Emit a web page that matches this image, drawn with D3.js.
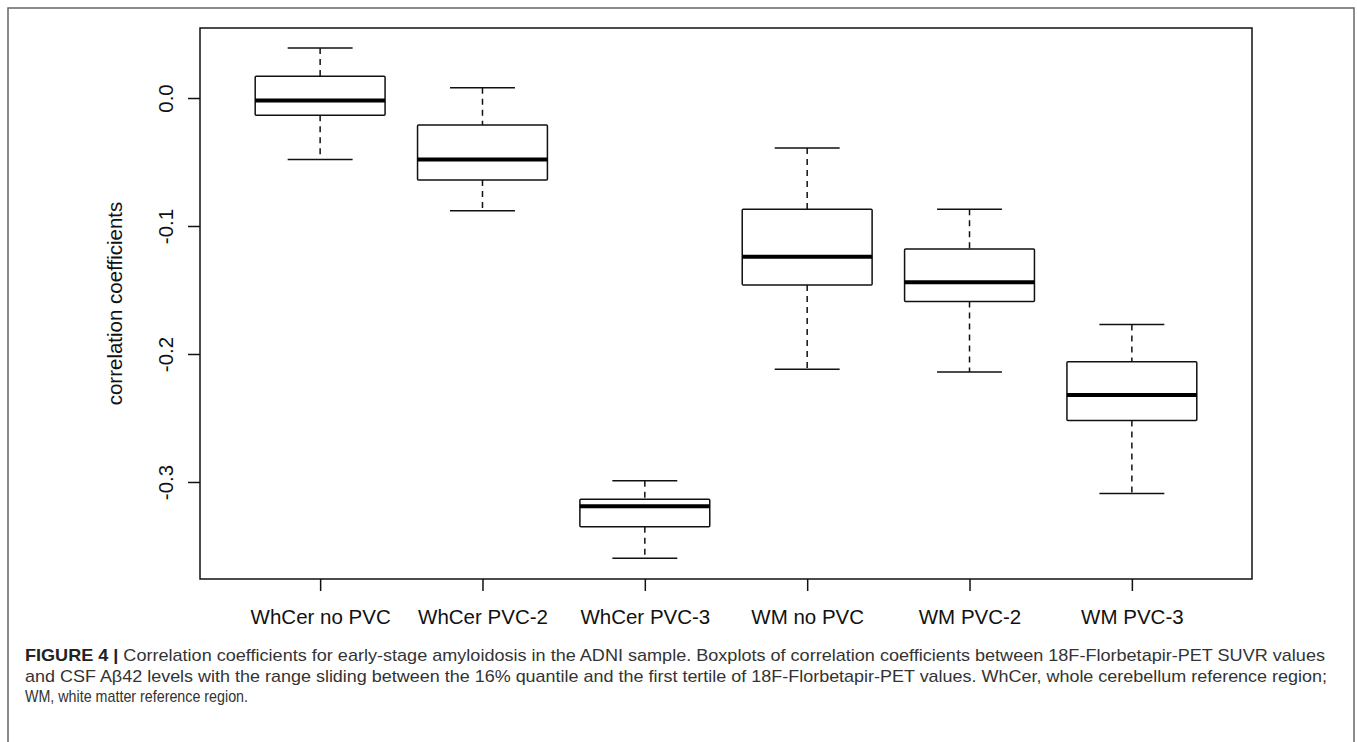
<!DOCTYPE html>
<html>
<head>
<meta charset="utf-8">
<script src="https://cdn.jsdelivr.net/npm/d3@7"></script>
<style>
  body { margin: 0; background: #fff; }
  svg { display: block; }
</style>
</head>
<body>
<script>
// Box statistics
const categories = ["WhCer no PVC", "WhCer PVC-2", "WhCer PVC-3", "WM no PVC", "WM PVC-2", "WM PVC-3"];
const whiskerHigh = [0.039, 0.008, -0.299, -0.039, -0.087, -0.177];
const upperQuartile = [0.017, -0.021, -0.3135, -0.087, -0.118, -0.206];
const medians = [-0.002, -0.048, -0.319, -0.124, -0.144, -0.232];
const lowerQuartile = [-0.0135, -0.064, -0.335, -0.146, -0.159, -0.252];
const whiskerLow = [-0.048, -0.088, -0.3595, -0.212, -0.214, -0.309];
const yTicks = [0.0, -0.1, -0.2, -0.3];
const yLabel = "correlation coefficients";

const captionLines = [
  ["FIGURE 4 | ", "Correlation coefficients for early-stage amyloidosis in the ADNI sample. Boxplots of correlation coefficients between 18F-Florbetapir-PET SUVR values"],
  ["", "and CSF A\u03b242 levels with the range sliding between the 16% quantile and the first tertile of 18F-Florbetapir-PET values. WhCer, whole cerebellum reference region;"],
  ["", "WM, white matter reference region."]
];
const captionWidths = [1300, 1302, 223];

const width = 1357;
const height = 742;
const axisFont = "20.5px";

const svg = d3.select("body")
              .append("svg")
              .attr("width", width)
              .attr("height", height)
              .style("font-family", "'Liberation Sans', Arial, Helvetica, sans-serif");

// outer figure frame (runs off the bottom like the source)
svg.append("rect")
   .attr("x", 8).attr("y", 8)
   .attr("width", 1346).attr("height", 800)
   .attr("fill", "none")
   .attr("stroke", "#666")
   .attr("stroke-width", 1.5);

// plot region
const plot = { left: 200, right: 1252, top: 28, bottom: 579 };

// R style: x from 0.5..n+0.5, extended by 4%
const x = d3.scaleLinear()
            .domain([0.26, 6.74])
            .range([plot.left, plot.right]);

const y = d3.scaleLinear()
            .domain([-0.3758, 0.0547])
            .range([plot.bottom, plot.top]);

const boxHalf = 0.4;
const capHalf = 0.2;

// y axis
const yAxis = svg.append("g")
   .attr("transform", `translate(${plot.left},0)`)
   .call(d3.axisLeft(y).tickValues(yTicks).tickSize(12).tickFormat(d => d.toFixed(1)));
yAxis.select(".domain").remove();
yAxis.selectAll(".tick line").attr("stroke", "#111").attr("stroke-width", 1.5);
yAxis.selectAll(".tick text")
     .attr("transform", "rotate(-90)")
     .attr("x", 0).attr("y", -27).attr("dy", 0)
     .attr("text-anchor", "middle")
     .attr("fill", "#111")
     .style("font-size", axisFont)
     .style("font-family", "'Liberation Sans', Arial, Helvetica, sans-serif");

// x axis
const xAxis = svg.append("g")
   .attr("transform", `translate(0,${plot.bottom})`)
   .call(d3.axisBottom(x).tickValues(d3.range(1, categories.length + 1)).tickSize(12)
           .tickFormat(i => categories[i - 1]));
xAxis.select(".domain").remove();
xAxis.selectAll(".tick line").attr("stroke", "#111").attr("stroke-width", 1.5);
xAxis.selectAll(".tick text")
     .attr("y", 45).attr("dy", 0)
     .attr("fill", "#111")
     .style("font-size", axisFont)
     .style("font-family", "'Liberation Sans', Arial, Helvetica, sans-serif");

// y axis title
svg.append("text")
   .attr("transform", `translate(122,${(plot.top + plot.bottom) / 2}) rotate(-90)`)
   .attr("text-anchor", "middle")
   .attr("fill", "#111")
   .style("font-size", axisFont)
   .text(yLabel);

// boxes
const boxes = svg.append("g")
   .selectAll("g")
   .data(categories)
   .enter().append("g");

// dashed whiskers
boxes.append("line")
     .attr("x1", (d, i) => x(i + 1)).attr("x2", (d, i) => x(i + 1))
     .attr("y1", (d, i) => y(whiskerHigh[i])).attr("y2", (d, i) => y(upperQuartile[i]))
     .attr("stroke", "#111").attr("stroke-width", 1.5).attr("stroke-dasharray", "6,5");
boxes.append("line")
     .attr("x1", (d, i) => x(i + 1)).attr("x2", (d, i) => x(i + 1))
     .attr("y1", (d, i) => y(lowerQuartile[i])).attr("y2", (d, i) => y(whiskerLow[i]))
     .attr("stroke", "#111").attr("stroke-width", 1.5).attr("stroke-dasharray", "6,5");

// whisker caps
boxes.append("line")
     .attr("x1", (d, i) => x(i + 1 - capHalf)).attr("x2", (d, i) => x(i + 1 + capHalf))
     .attr("y1", (d, i) => y(whiskerHigh[i])).attr("y2", (d, i) => y(whiskerHigh[i]))
     .attr("stroke", "#111").attr("stroke-width", 1.5);
boxes.append("line")
     .attr("x1", (d, i) => x(i + 1 - capHalf)).attr("x2", (d, i) => x(i + 1 + capHalf))
     .attr("y1", (d, i) => y(whiskerLow[i])).attr("y2", (d, i) => y(whiskerLow[i]))
     .attr("stroke", "#111").attr("stroke-width", 1.5);

// box
boxes.append("rect")
     .attr("x", (d, i) => x(i + 1 - boxHalf))
     .attr("width", (d, i) => x(i + 1 + boxHalf) - x(i + 1 - boxHalf))
     .attr("y", (d, i) => y(upperQuartile[i]))
     .attr("height", (d, i) => y(lowerQuartile[i]) - y(upperQuartile[i]))
     .attr("fill", "#fff")
     .attr("stroke", "#111").attr("stroke-width", 1.5)
     .attr("rx", 1);

// median
boxes.append("line")
     .attr("x1", (d, i) => x(i + 1 - boxHalf)).attr("x2", (d, i) => x(i + 1 + boxHalf))
     .attr("y1", (d, i) => y(medians[i])).attr("y2", (d, i) => y(medians[i]))
     .attr("stroke", "#000").attr("stroke-width", 4);

// plot frame
svg.append("rect")
   .attr("x", plot.left).attr("y", plot.top)
   .attr("width", plot.right - plot.left)
   .attr("height", plot.bottom - plot.top)
   .attr("fill", "none")
   .attr("stroke", "#111")
   .attr("stroke-width", 1.5);

// caption
const caption = svg.append("g")
   .style("font-family", "'Liberation Sans Narrow', 'Liberation Sans', Arial, sans-serif")
   .style("font-size", "17px");

captionLines.forEach(function (line, k) {
    const t = caption.append("text")
       .attr("x", 25)
       .attr("y", 661 + k * 20.5)
       .attr("textLength", captionWidths[k])
       .attr("lengthAdjust", "spacingAndGlyphs")
       .attr("fill", "#333");
    if (line[0]) {
        t.append("tspan").attr("font-weight", "bold").attr("fill", "#222").text(line[0]);
    }
    t.append("tspan").text(line[1]);
});
</script>
</body>
</html>
